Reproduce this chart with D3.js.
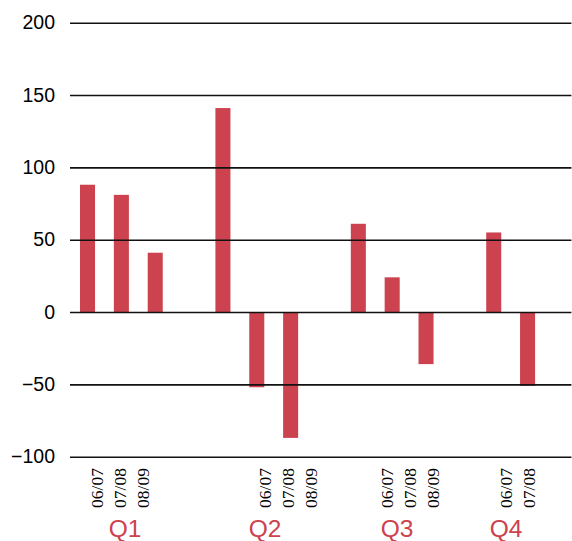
<!DOCTYPE html>
<html>
<head>
<meta charset="utf-8">
<script src="https://cdn.jsdelivr.net/npm/d3@7"></script>
<style>
  html, body { margin: 0; padding: 0; background: #fff; }
  svg { display: block; }
  .season { font-family: "Liberation Serif", "Times New Roman", serif; }
  .sans { font-family: "Liberation Sans", Arial, sans-serif; }
</style>
</head>
<body>
<div class="graph"></div>
<script>
const quarters = ["Q1", "Q2", "Q3", "Q4"];
const seasons = ["06/07", "07/08", "08/09"];

const q1Values = [88, 81, 41];
const q2Values = [141, -52, -87];
const q3Values = [61, 24, -36];
const q4Values = [55, -51];

const quarterValues = [q1Values, q2Values, q3Values, q4Values];
const quarterSeasons = [seasons, seasons, seasons, seasons.slice(0, 2)];

const yTicks = [-100, -50, 0, 50, 100, 150, 200];

// layout
const width = 572;
const height = 541;
const plotLeft = 70.6;
const slotStep = 33.85;
const barColor = "#cc424e";

// text positions of the category labels (they don't sit under the bars)
const seasonLabelStart = [97, 265, 387, 506];
const seasonLabelStep = 23.3;
const quarterLabelX = [125, 265, 397, 506];

// one slot per season plus a gap slot after each quarter
const slots = [];
quarters.forEach(q => {
    seasons.forEach(s => slots.push(q + "|" + s));
    slots.push(q + "|gap");
});

const bars = [];
quarters.forEach((q, qi) => {
    quarterValues[qi].forEach((v, si) => {
        bars.push({ slot: q + "|" + seasons[si], value: v });
    });
});

const x = d3.scaleBand()
        .domain(slots)
        .range([plotLeft, plotLeft + slots.length * slotStep])
        .paddingInner(0.556)
        .paddingOuter(0.278);

const y = d3.scaleLinear()
        .domain([-100, 200])
        .range([456.7, 22.7]);

const svg = d3.select(".graph")
        .append("svg")
        .attr("width", width)
        .attr("height", height);

svg.selectAll("rect.bar")
        .data(bars).enter()
        .append("rect")
        .attr("class", "bar")
        .attr("x", d => x(d.slot))
        .attr("width", x.bandwidth())
        .attr("y", d => y(Math.max(0, d.value)))
        .attr("height", d => Math.abs(y(d.value) - y(0)))
        .attr("fill", barColor);

const yAxis = svg.append("g")
        .attr("transform", `translate(${plotLeft - 0.6},0)`)
        .call(d3.axisLeft(y)
                .tickValues(yTicks)
                .tickSize(-(width - plotLeft))
                .tickPadding(15));

yAxis.attr("font-family", null).attr("font-size", null);
yAxis.select(".domain").remove();
yAxis.selectAll(".tick line")
        .attr("stroke", "#111")
        .attr("stroke-width", 1.6);
yAxis.selectAll(".tick text")
        .attr("class", "sans")
        .style("font-size", "19.5px")
        .attr("fill", "#000");

quarters.forEach((q, qi) => {
    const labelX = d3.scaleLinear()
            .domain([0, 1])
            .range([seasonLabelStart[qi], seasonLabelStart[qi] + seasonLabelStep]);

    svg.selectAll("text.season-" + q)
            .data(quarterSeasons[qi]).enter()
            .append("text")
            .attr("class", "season season-" + q)
            .attr("transform", (_, i) => `translate(${labelX(i)},468) rotate(-90)`)
            .attr("text-anchor", "end")
            .attr("dy", "0.33em")
            .style("font-size", "17.5px")
            .attr("fill", "#000")
            .text(d => d);

    svg.append("text")
            .attr("class", "sans")
            .attr("x", quarterLabelX[qi])
            .attr("y", 537)
            .attr("text-anchor", "middle")
            .style("font-size", "24.5px")
            .attr("fill", barColor)
            .text(q);
});
</script>
</body>
</html>
